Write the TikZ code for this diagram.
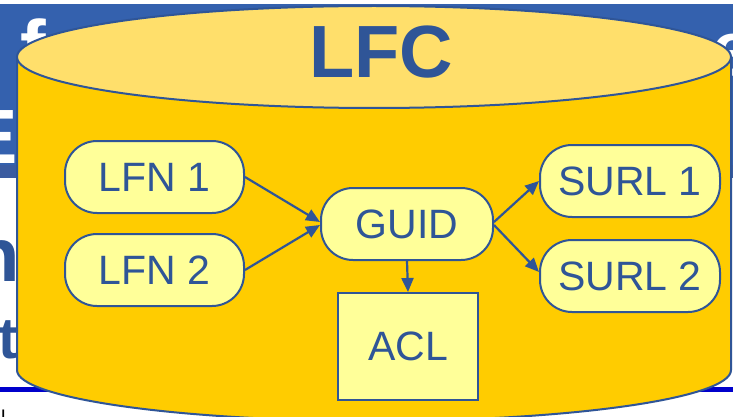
\documentclass[tikz,border=0pt]{standalone}
\usepackage{fontspec}
\setmainfont{Liberation Sans}
\usetikzlibrary{arrows.meta}
\definecolor{slideblue}{HTML}{3461AE}
\definecolor{slidedark}{HTML}{3B5CA0}
\definecolor{dblue}{HTML}{2F5597}
\definecolor{cylside}{HTML}{FFCC00}
\definecolor{cyltop}{HTML}{FFDF6B}
\definecolor{nodefill}{HTML}{FFFF99}
\definecolor{rulecol}{HTML}{0000CC}
\begin{document}
\begin{tikzpicture}[x=1pt,y=-1pt,
  item/.style={draw=dblue, line width=2pt, fill=nodefill, rounded corners=32pt,
    minimum width=179pt, minimum height=72pt, inner sep=0pt, text=dblue,
    font=\fontsize{41}{41}\selectfont},
  link/.style={draw=dblue, line width=2.2pt, -{Triangle[length=14pt,width=12pt]}},
  bgletter/.style={inner sep=0pt, font=\bfseries\fontsize{77}{77}\selectfont}]
\useasboundingbox (0,0) rectangle (733,417);
\clip (0,0) rectangle (733,417);
% slide behind
\fill[white] (0,0) rectangle (733,417);
\fill[slideblue] (0,4) rectangle (733,165);
\fill[slidedark] (0,165) rectangle (733,178);
\node[bgletter, text=white, anchor=base west] (fchar) at (20,75) {f};
\node[bgletter, text=white, anchor=base west] (echar) at (711,76) {e};
\node[bgletter, text=white, anchor=base east] (Echar) at (18,163) {E};
\node[bgletter, text=dblue, anchor=base east, font=\bfseries\fontsize{76}{76}\selectfont] (nchar) at (20,281) {n};
\node[bgletter, text=dblue, anchor=base east, font=\bfseries\fontsize{58}{58}\selectfont] (tchar) at (18,358) {t};
\node[inner sep=0pt, anchor=base west, font=\fontsize{20}{20}\selectfont] (lchar) at (1,424) {l};
\fill[rulecol] (0,387) rectangle (733,392);
% cylinder
\fill[cylside] (17,57) -- (17,370) arc[start angle=180, end angle=360, x radius=357pt, y radius=51pt] -- (731,57) -- cycle;
\draw[dblue, line width=2pt] (17,57) -- (17,370) arc[start angle=180, end angle=360, x radius=357pt, y radius=51pt] -- (731,57);
\filldraw[fill=cyltop, draw=dblue, line width=2pt] (374,57) ellipse [x radius=357pt, y radius=51pt];
\node[inner sep=0pt, text=dblue, font=\bfseries\fontsize{74}{74}\selectfont] (lfc) at (381,52.5) {LFC};
% nodes
\node[item] (lfn1) at (154.5,177) {LFN 1};
\node[item] (lfn2) at (154.5,270) {LFN 2};
\node[item, minimum width=172pt] (guid) at (407,224) {GUID};
\node[item, minimum width=180pt] (surl1) at (630,181) {SURL 1};
\node[item, minimum width=180pt] (surl2) at (630,276) {SURL 2};
\node[item, rounded corners=0pt, minimum width=140pt, minimum height=107pt] (acl) at (408,346.5) {ACL};
% connectors
\draw[link] (lfn1.east) -- ([yshift=2pt]guid.west);
\draw[link] (lfn2.east) -- ([yshift=-1pt]guid.west);
\draw[link] ([yshift=2pt]guid.east) -- (surl1.west);
\draw[link] ([yshift=-1pt]guid.east) -- ([yshift=4pt]surl2.west);
\draw[link] (guid.south) -- (acl.north);
\end{tikzpicture}
\end{document}
